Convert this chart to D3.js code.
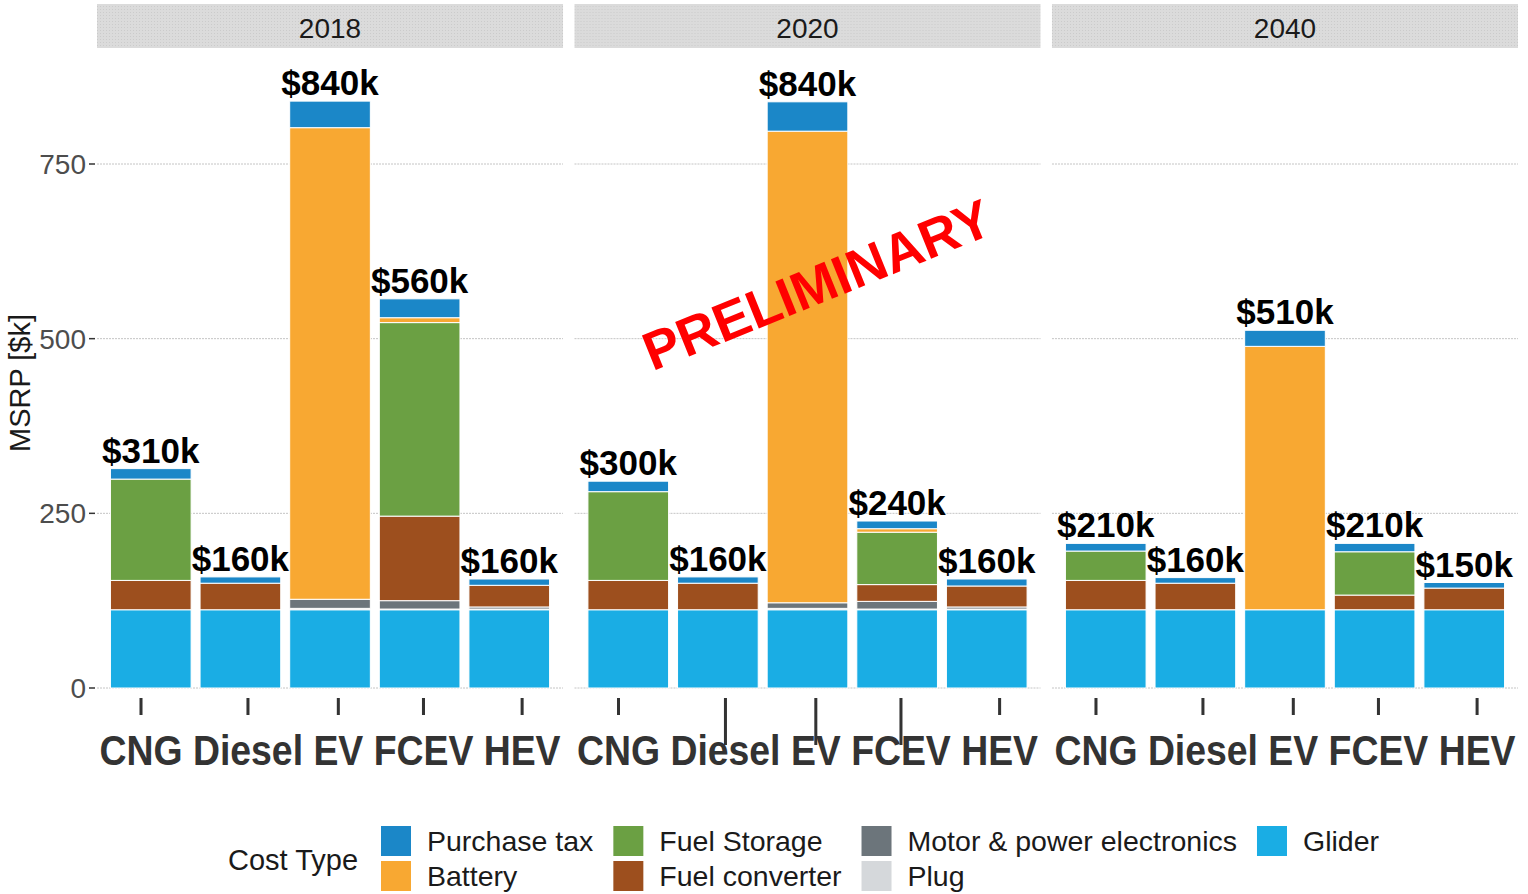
<!DOCTYPE html>
<html>
<head>
<meta charset="utf-8">
<script src="https://cdn.jsdelivr.net/npm/d3@7"></script>
<style>
  body { margin: 0; background: #fff; }
  svg { display: block; font-family: 'Liberation Sans', Arial, sans-serif; }
</style>
</head>
<body>
<div id="chart"></div>
<script>
// 各年份的车型成本构成（堆叠柱）

const years = ['2018', '2020', '2040'];
const vehicles = ['CNG', 'Diesel', 'EV', 'FCEV', 'HEV'];
const costTypes = ['Purchase tax', 'Battery', 'Fuel Storage', 'Fuel converter', 'Motor & power electronics', 'Plug', 'Glider'];
const costColors = ['#1b87c8', '#f8a832', '#6ba043', '#9d4f1e', '#6c757b', '#d5d8db', '#1aade4'];

// 数值顺序：2018 CNG..HEV, 2020 CNG..HEV, 2040 CNG..HEV  (单位 $k)
const purchaseTax = [15, 9, 38, 27, 9, 15, 9, 42, 11, 10, 11, 8, 23, 12, 8];
const battery = [0, 0, 675, 7, 0, 0, 0, 675, 5, 0, 0, 0, 377, 0, 0];
const fuelStorage = [145, 0, 0, 277, 0, 127, 0, 0, 75, 0, 42, 0, 0, 62, 0];
const fuelConverter = [42, 38, 0, 121, 31, 42, 38, 0, 24, 30, 42, 38, 0, 21, 31];
const motorPower = [0, 0, 13, 12, 3, 0, 0, 8, 11, 3, 0, 0, 0, 0, 0];
const plug = [0, 0, 2, 1, 1, 0, 0, 2, 1, 1, 0, 0, 0, 0, 0];
const glider = [112, 112, 112, 112, 112, 112, 112, 112, 112, 112, 112, 112, 112, 112, 112];

const yTicks = [0, 250, 500, 750];
// 2020 面板中被拉长的刻度线
const longTicks = ['2020|Diesel', '2020|EV', '2020|FCEV'];

const seriesValues = [purchaseTax, battery, fuelStorage, fuelConverter, motorPower, plug, glider];

// 拼出每根柱子的数据行
const rows = [];
years.forEach(function (year, yi) {
    vehicles.forEach(function (veh, vi) {
        const row = { year: year, vehicle: veh };
        costTypes.forEach(function (c, ci) {
            row[c] = seriesValues[ci][yi * vehicles.length + vi];
        });
        rows.push(row);
    });
});

const W = 1528, H = 894;
const svg = d3.select('#chart').append('svg').attr('width', W).attr('height', H);

// 分面条纹理
const defs = svg.append('defs');
const pat = defs.append('pattern').attr('id', 'strip-dots')
    .attr('width', 3).attr('height', 3).attr('patternUnits', 'userSpaceOnUse');
pat.append('rect').attr('width', 3).attr('height', 3).attr('fill', '#dbdbdb');
pat.append('rect').attr('width', 1).attr('height', 1).attr('fill', '#cbcbcb');

// 比例尺
const panelScale = d3.scaleBand().domain(years).range([97, 1518]).paddingInner(0.024);
const yScale = d3.scaleLinear().domain([0, 750]).range([688, 164]);
const color = d3.scaleOrdinal().domain(costTypes).range(costColors);

const stack = d3.stack().keys(costTypes.slice().reverse());

// y 轴
const yAxisG = svg.append('g');
yAxisG.selectAll('text.ytick').data(yTicks).enter().append('text')
    .attr('x', 86).attr('y', function (d) { return yScale(d); })
    .attr('dy', '0.36em').attr('text-anchor', 'end')
    .style('font-size', '28px').attr('fill', '#4d4d4d')
    .text(function (d) { return d; });
yAxisG.selectAll('line').data(yTicks).enter().append('line')
    .attr('x1', 89).attr('x2', 95)
    .attr('y1', function (d) { return yScale(d); })
    .attr('y2', function (d) { return yScale(d); })
    .attr('stroke', '#333').attr('stroke-width', 1.5);

svg.append('text')
    .attr('transform', 'translate(30,383) rotate(-90)')
    .attr('text-anchor', 'middle')
    .style('font-size', '29px').attr('fill', '#1a1a1a')
    .text('MSRP [$k]');

// 每个年份一个面板
years.forEach(function (year) {
    const x0 = panelScale(year);
    const pw = panelScale.bandwidth();
    const g = svg.append('g').attr('transform', 'translate(' + x0 + ',0)');

    // 分面标题
    g.append('rect').attr('x', 0).attr('y', 4).attr('width', pw).attr('height', 44)
        .attr('fill', 'url(#strip-dots)');
    g.append('text').attr('x', pw / 2).attr('y', 38).attr('text-anchor', 'middle')
        .style('font-size', '28px').attr('fill', '#1a1a1a').text(year);

    // 网格线
    g.selectAll('line.grid').data(yTicks).enter().append('line')
        .attr('class', 'grid')
        .attr('x1', 0).attr('x2', pw)
        .attr('y1', function (d) { return yScale(d); })
        .attr('y2', function (d) { return yScale(d); })
        .attr('stroke', '#c4c4c4').attr('stroke-width', 1).attr('stroke-dasharray', '2,1');

    const xScale = d3.scaleBand().domain(vehicles).range([0, pw])
        .paddingInner(0.1).paddingOuter(0.15);

    const data = rows.filter(function (r) { return r.year === year; });
    const layers = stack(data);

    g.selectAll('g.layer').data(layers).enter().append('g')
        .attr('class', 'layer')
        .attr('fill', function (d) { return color(d.key); })
        .selectAll('rect').data(function (d) { return d.filter(function (p) { return p[1] > p[0]; }); })
        .enter().append('rect')
        .attr('x', function (d) { return xScale(d.data.vehicle); })
        .attr('width', xScale.bandwidth())
        .attr('y', function (d) { return yScale(d[1]); })
        .attr('height', function (d) { return yScale(d[0]) - yScale(d[1]); })
        .attr('stroke', '#fff').attr('stroke-width', 1);

    // 总价标签
    g.selectAll('text.total').data(data).enter().append('text')
        .attr('class', 'total')
        .attr('x', function (d) { return xScale(d.vehicle) + xScale.bandwidth() / 2; })
        .attr('y', function (d) {
            const tot = d3.sum(costTypes, function (c) { return d[c]; });
            return yScale(tot) - 6;
        })
        .attr('text-anchor', 'middle')
        .style('font-size', '35px').style('font-weight', 'bold').attr('fill', '#000')
        .text(function (d) {
            const tot = d3.sum(costTypes, function (c) { return d[c]; });
            return '$' + Math.round(tot / 10) * 10 + 'k';
        });

    // x 轴标签：整行文字，刻度线放在每个词的中心
    const lab = g.append('g').attr('transform', 'translate(' + (pw / 2) + ',765) scale(0.89,1)');
    const line = vehicles.join(' ');
    const txt = lab.append('text').attr('x', 0).attr('y', 0).attr('text-anchor', 'middle')
        .style('font-size', '42px').style('font-weight', 'bold').attr('fill', '#333')
        .text(line);
    const node = txt.node();
    let idx = 0;
    vehicles.forEach(function (v) {
        const a = node.getStartPositionOfChar(idx).x;
        const b = node.getEndPositionOfChar(idx + v.length - 1).x;
        const cx = (a + b) / 2;
        const isLong = longTicks.indexOf(year + '|' + v) >= 0;
        lab.insert('line', 'text')
            .attr('x1', cx).attr('x2', cx)
            .attr('y1', 698 - 765).attr('y2', (isLong ? 745 : 715) - 765)
            .attr('stroke', '#333').attr('stroke-width', 3.4);
        idx += v.length + 1;
    });
});

// 图例
const legend = svg.append('g');
legend.append('text').attr('x', 228).attr('y', 870)
    .style('font-size', '29px').attr('fill', '#1a1a1a').text('Cost Type');

let colX = 381;
for (let ci = 0; ci < costTypes.length; ci += 2) {
    const items = costTypes.slice(ci, ci + 2);
    let maxW = 0;
    items.forEach(function (c, ri) {
        const ky = 826 + ri * 35;
        legend.append('rect').attr('x', colX).attr('y', ky).attr('width', 30).attr('height', 30)
            .attr('fill', color(c));
        const t = legend.append('text').attr('x', colX + 46).attr('y', ky + 15)
            .attr('dy', '0.36em')
            .style('font-size', '28.5px').attr('fill', '#1a1a1a').text(c);
        maxW = Math.max(maxW, t.node().getComputedTextLength());
    });
    colX += 46 + maxW + 20;
}

// 水印
svg.append('text')
    .attr('transform', 'translate(824,302) rotate(-22)')
    .attr('text-anchor', 'middle')
    .style('font-size', '54px').style('font-weight', 'bold').attr('fill', '#ff0000')
    .text('PRELIMINARY');
</script>
</body>
</html>
